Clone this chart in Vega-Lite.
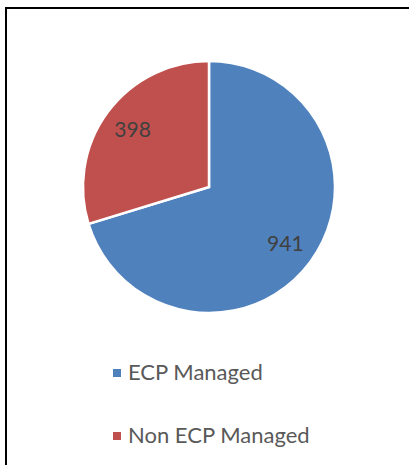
{
  "$schema": "https://vega.github.io/schema/vega-lite/v6.json",
  "width": 420,
  "height": 480,
  "autosize": "none",
  "padding": {"left": 6, "top": 8, "right": 0, "bottom": 0},
  "background": "#ffffff",
  "view": {"stroke": "#000000", "strokeWidth": 2, "fill": "#ffffff"},
  "data": {
    "values": [
      {"category": "ECP Managed", "count": 941, "order": 1},
      {"category": "Non ECP Managed", "count": 398, "order": 2}
    ]
  },
  "encoding": {
    "theta": {"field": "count", "type": "quantitative", "stack": true},
    "order": {"field": "order", "type": "quantitative"}
  },
  "layer": [
    {
      "mark": {"type": "arc", "radius": 126, "stroke": "#ffffff", "strokeWidth": 2.5,
               "x": {"expr": "width/2 - 7"}, "y": {"expr": "height/2 - 61"}},
      "encoding": {
        "color": {
          "field": "category",
          "type": "nominal",
          "scale": {"domain": ["ECP Managed", "Non ECP Managed"], "range": ["#4F81BD", "#C0504D"]},
          "legend": {
            "title": null,
            "orient": "none",
            "legendX": 100,
            "legendY": 354,
            "direction": "vertical",
            "symbolType": "square",
            "symbolSize": 64,
            "symbolStrokeWidth": 0,
            "labelFont": "Lato",
            "labelFontSize": 22,
            "labelColor": "#595959",
            "labelOffset": 0,
            "labelLimit": 400,
            "rowPadding": 41,
            "padding": 0
          }
        }
      }
    },
    {
      "mark": {"type": "text", "radius": 95, "font": "Lato", "fontSize": 21, "color": "#404040",
               "x": {"expr": "width/2 - 7"}, "y": {"expr": "height/2 - 60"}},
      "encoding": {
        "text": {"field": "count", "type": "quantitative"}
      }
    }
  ]
}
